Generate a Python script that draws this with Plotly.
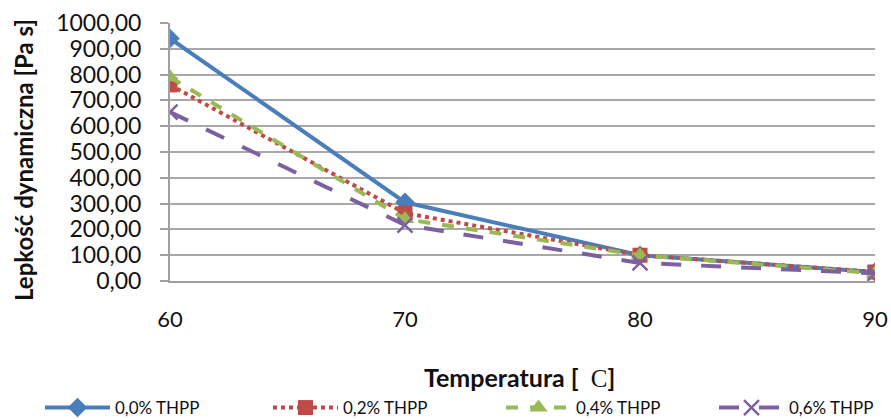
import plotly.graph_objects as go

temps = [60, 70, 80, 90]
s00 = [940, 305, 100, 35]
s02 = [760, 263, 100, 35]
s04 = [790, 240, 100, 30]
s06 = [655, 217, 70, 30]
names = ["0,0% THPP", "0,2% THPP", "0,4% THPP", "0,6% THPP"]
yticks = [0, 100, 200, 300, 400, 500, 600, 700, 800, 900, 1000]

styles = [
    dict(color="#4A7EBB", dash="solid", symbol="diamond", size=15),
    dict(color="#BE4B48", dash="dot", symbol="square", size=15),
    dict(color="#98B954", dash="dash", symbol="triangle-up", size=16),
    dict(color="#7D60A0", dash="longdash", symbol="x-thin", size=15),
]
legend_ids = ["legend", "legend2", "legend3", "legend4"]
legend_x = [40, 268, 501, 714]

fig = go.Figure()
for name, vals, st, lid in zip(names, [s00, s02, s04, s06], styles, legend_ids):
    marker = dict(symbol=st["symbol"], size=st["size"], color=st["color"])
    if st["symbol"] == "x-thin":
        marker["line"] = dict(color=st["color"], width=2.5)
    fig.add_trace(go.Scatter(
        x=temps, y=vals, name=name, mode="lines+markers",
        line=dict(color=st["color"], width=4, dash=st["dash"]),
        marker=marker, legend=lid,
    ))

legend_common = dict(orientation="h", xref="container", yref="container",
                     xanchor="left", y=1 - 408 / 419, yanchor="middle",
                     font=dict(size=17), itemwidth=65, bgcolor="rgba(0,0,0,0)")

layout_legends = {}
for lid, lx in zip(legend_ids, legend_x):
    layout_legends[lid] = dict(legend_common, x=lx / 891)

fig.update_layout(
    width=891, height=419,
    margin=dict(l=170, r=16, t=23, b=138, autoexpand=False),
    paper_bgcolor="white", plot_bgcolor="white",
    font=dict(family="Lato, Open Sans, sans-serif", color="#111111"),
    separators=", ",
    showlegend=True,
    xaxis=dict(range=[60, 90], tickvals=temps, ticktext=[str(t) for t in temps],
               showgrid=False, showline=True, linecolor="#A0A0A0", linewidth=2,
               zeroline=False, tickfont=dict(size=22), ticks="", automargin=False,
               ticklabelstandoff=18),
    yaxis=dict(range=[0, 1000], tickvals=yticks, tickformat=".2f", automargin=False,
               showgrid=True, gridcolor="#A8A8A8", gridwidth=2,
               showline=True, linecolor="#A0A0A0", linewidth=2,
               ticks="outside", ticklen=8, tickcolor="#A0A0A0", tickwidth=2,
               zeroline=False, tickfont=dict(size=23), ticklabelstandoff=14),
    annotations=[
        dict(text="<b>Temperatura [ &nbsp;</b><span style='font-family:Liberation Serif'>C</span><b>]</b>",
             x=(519 - 170) / 705, y=(281 - 377) / 258, xref="paper", yref="paper",
             xanchor="center", yanchor="middle", showarrow=False, font=dict(size=25)),
        dict(text="<b>Lepkość dynamiczna [Pa s]</b>", x=(23 - 170) / 705,
             y=(281 - 160) / 258, xref="paper", yref="paper",
             showarrow=False, textangle=-90, font=dict(size=24),
             xanchor="center", yanchor="middle"),
    ],
    **layout_legends,
)

fig.write_html("out.html")
